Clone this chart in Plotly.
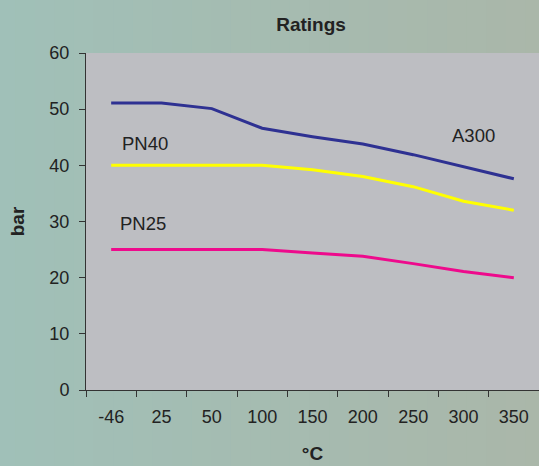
import plotly.graph_objects as go

categories = ["-46", "25", "50", "100", "150", "200", "250", "300", "350"]
a300 = [51.1, 51.1, 50.1, 46.6, 45.1, 43.8, 41.9, 39.8, 37.6]
pn40 = [40.0, 40.0, 40.0, 40.0, 39.2, 38.0, 36.2, 33.6, 32.0]
pn25 = [25.0, 25.0, 25.0, 25.0, 24.4, 23.8, 22.5, 21.1, 20.0]
y_ticks = [0, 10, 20, 30, 40, 50, 60]

series = [("A300", a300, "#2E3192"), ("PN40", pn40, "#FFFF00"), ("PN25", pn25, "#EE0A8C")]

fig = go.Figure()
for name, vals, col in series:
    fig.add_trace(go.Scatter(x=categories, y=vals, mode="lines", name=name,
                             line=dict(color=col, width=3), showlegend=False,
                             hoverinfo="skip"))

# background gradient strips
def lerp(c1, c2, t):
    return "rgb(%d,%d,%d)" % tuple(round(a + (b - a) * t) for a, b in zip(c1, c2))
c_left = (160, 192, 184)
c_right = (171, 182, 168)
n = 30
shapes = []
for i in range(n):
    shapes.append(dict(type="rect", xref="paper", yref="paper",
                       x0=-0.2 + i * 1.3 / n, x1=-0.2 + (i + 1) * 1.3 / n + 0.002,
                       y0=-0.3, y1=1.3, fillcolor=lerp(c_left, c_right, i / (n - 1)),
                       line=dict(width=0), layer="below"))
shapes.append(dict(type="rect", xref="paper", yref="paper", x0=0, x1=1, y0=0, y1=1,
                   fillcolor="#BDBEC2", line=dict(width=0), layer="below"))

TXT = "#222222"
fig.update_layout(
    width=539, height=466,
    margin=dict(l=86, r=0, t=53, b=76),
    paper_bgcolor="#A4BCB2",
    plot_bgcolor="#BDBEC2",
    font=dict(family="Liberation Sans, Arial, sans-serif", size=18, color=TXT),
    title=dict(text="<b>Ratings</b>", x=0.577, xanchor="center", y=0.948, yanchor="middle",
               font=dict(size=19, color=TXT)),
    shapes=shapes,
    annotations=[
        dict(x=0.68, y=43.8, xref="x", yref="y", text="PN40", showarrow=False,
             font=dict(size=18.5, color=TXT)),
        dict(x=0.64, y=29.6, xref="x", yref="y", text="PN25", showarrow=False,
             font=dict(size=18.5, color=TXT)),
        dict(x=7.2, y=45.4, xref="x", yref="y", text="A300", showarrow=False,
             font=dict(size=18.5, color=TXT)),
    ],
    xaxis=dict(type="category", range=[-0.5, 8.5], showline=True, linecolor="#333333",
               linewidth=1, ticks="outside", tickson="boundaries", ticklen=6,
               tickcolor="#333333", showgrid=False, zeroline=False,
               tickfont=dict(size=18), ticklabelstandoff=10,
               title=dict(text="<b>°C</b>", font=dict(size=19), standoff=21)),
    yaxis=dict(range=[0, 60], tickvals=y_ticks, showline=True, linecolor="#333333",
               linewidth=1, ticks="outside", ticklen=6, tickcolor="#333333",
               showgrid=False, zeroline=False, tickfont=dict(size=18),
               ticklabelstandoff=6,
               title=dict(text="<b>bar</b>", font=dict(size=19), standoff=19)),
)

fig.write_html("out.html", config={"displayModeBar": False},
               post_script="document.body.style.margin='0';document.body.style.overflow='hidden';")
